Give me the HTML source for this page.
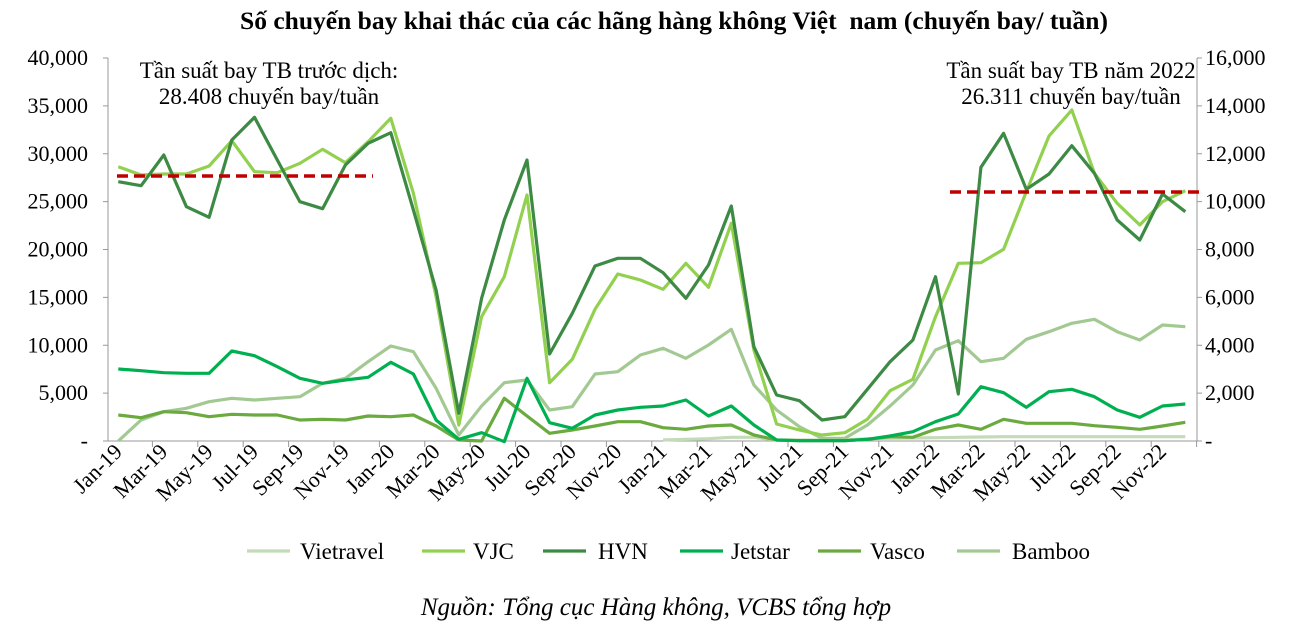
<!DOCTYPE html>
<html><head><meta charset="utf-8"><style>
body{margin:0;background:#fff;}
svg{display:block;font-family:"Liberation Serif","Noto Serif CJK SC",serif;}
</style></head><body>
<svg id="c" width="1309" height="632" xmlns="http://www.w3.org/2000/svg">
<text x="674" y="29" font-size="25.5" font-weight="bold" text-anchor="middle">Số chuyến bay khai thác của các hãng hàng không Việt&#160; nam (chuyến bay/ tuần)</text>
<g font-size="23" text-anchor="middle">
<text x="269" y="78">Tần suất bay TB trước dịch:</text>
<text x="269" y="104">28.408 chuyến bay/tuần</text>
<text x="1071" y="78">Tần suất bay TB năm 2022</text>
<text x="1071" y="104">26.311 chuyến bay/tuần</text>
</g>
<g id="axes" stroke="#999" stroke-width="1"></g>
<g id="lab" font-size="22"></g>
<g id="ser" fill="none" stroke-width="3.2" stroke-linejoin="round"></g>
<line x1="117" y1="176" x2="373" y2="176" stroke="#c00000" stroke-width="3.5" stroke-dasharray="11,6"/>
<line x1="950" y1="192" x2="1200" y2="192" stroke="#c00000" stroke-width="3.5" stroke-dasharray="11,6"/>
<g font-size="23">
<line x1="247" y1="551" x2="290" y2="551" stroke="#c4dbb8" stroke-width="3.2"/><text x="300" y="559">Vietravel</text>
<line x1="422" y1="551" x2="465" y2="551" stroke="#92d050" stroke-width="3.2"/><text x="473" y="559">VJC</text>
<line x1="543" y1="551" x2="586" y2="551" stroke="#3d8a44" stroke-width="3.2"/><text x="598" y="559">HVN</text>
<line x1="680" y1="551" x2="723" y2="551" stroke="#00b050" stroke-width="3.2"/><text x="731" y="559">Jetstar</text>
<line x1="818" y1="551" x2="861" y2="551" stroke="#6aaa3f" stroke-width="3.2"/><text x="870" y="559">Vasco</text>
<line x1="957" y1="551" x2="1000" y2="551" stroke="#a3c993" stroke-width="3.2"/><text x="1012" y="559">Bamboo</text>
</g>
<text x="656" y="615" font-size="25" font-style="italic" text-anchor="middle">Nguồn: Tổng cục Hàng không, VCBS tổng hợp</text>
</svg>
<script>
var NS="http://www.w3.org/2000/svg";
function el(p,t,a,txt){var e=document.createElementNS(NS,t);for(var k in a)e.setAttribute(k,a[k]);if(txt!=null)e.textContent=txt;p.appendChild(e);return e;}
var ax=document.getElementById('axes'),lab=document.getElementById('lab'),ser=document.getElementById('ser');
var X0=107,W=22.7,Y0=441,Yt=58;
function xi(i){return X0+W*(i+0.5);}
el(ax,'line',{x1:108,y1:Yt,x2:108,y2:Y0});
el(ax,'line',{x1:1197,y1:Yt,x2:1197,y2:Y0});
el(ax,'line',{x1:107,y1:Y0,x2:1197,y2:Y0});
var L=["40,000","35,000","30,000","25,000","20,000","15,000","10,000","5,000","-"];
var R=["16,000","14,000","12,000","10,000","8,000","6,000","4,000","2,000","-"];
for(var k=0;k<9;k++){var y=Yt+k*(Y0-Yt)/8;
el(ax,'line',{x1:103,y1:y,x2:108,y2:y});el(ax,'line',{x1:1197,y1:y,x2:1202,y2:y});
el(lab,'text',{x:88,y:y+7,'text-anchor':'end'},L[k]);
el(lab,'text',{x:1205,y:y+7},R[k]);}
var mn=["Jan","Mar","May","Jul","Sep","Nov"];
for(var i=0;i<48;i++){ if(i%2==1){el(ax,'line',{x1:X0+W*(i+1),y1:Y0,x2:X0+W*(i+1),y2:Y0+6});}
 if(i%2==0){var x=xi(i)+5,y=453;el(lab,'text',{x:x,y:y,'text-anchor':'end',transform:'rotate(-45 '+x+' '+y+')'},mn[(i%12)/2]+"-"+(19+Math.floor(i/12)));}}
function toy(z){return 50+z/3;}
var S={
"#a3c993":[1173,1110,1085,1075,1055,1045,1050,1045,1040,1000,985,935,888,905,1015,1155,1068,998,990,1080,1070,972,965,915,895,925,885,838,1005,1080,1130,1165,1165,1125,1068,1005,900,872,935,925,868,845,820,808,845,870,825,830],
"#6aaa3f":[1095,1103,1085,1088,1100,1093,1095,1095,1110,1108,1110,1098,1100,1095,1128,1170,1173,1045,1098,1150,1140,1128,1115,1115,1133,1138,1128,1125,1155,1170,1172,1172,1172,1168,1160,1162,1138,1125,1138,1108,1120,1120,1120,1127,1132,1138,1128,1117],
"#00b050":[957,962,968,970,970,903,917,950,985,1000,990,982,937,972,1110,1168,1148,1175,985,1118,1135,1095,1080,1072,1068,1050,1098,1068,1125,1170,1172,1172,1172,1168,1158,1145,1115,1092,1010,1028,1072,1025,1018,1040,1080,1102,1068,1062],
"#92d050":[350,375,372,372,348,272,365,368,340,298,338,275,205,430,740,1125,800,680,435,998,928,778,672,690,718,640,712,520,900,1122,1140,1155,1148,1108,1022,988,800,640,638,598,425,258,180,370,460,525,455,422],
"#3d8a44":[395,407,315,470,502,270,202,330,455,476,345,280,248,480,720,1090,745,510,330,912,790,648,625,625,668,745,645,468,890,1035,1052,1110,1100,1018,935,870,680,1032,352,250,418,372,287,370,510,570,432,485]
};
var vt=[];for(var i=24;i<48;i++)vt.push([i,i<27?1170-(i-24)*2:(i<29?1162:(i<33?1170:(i<40?1166-(i-33):1160)))]);
el(ser,'polyline',{stroke:'#c4dbb8',points:vt.map(function(p){return xi(p[0]).toFixed(1)+","+toy(p[1]).toFixed(1)}).join(" ")});
for(var c in S){el(ser,'polyline',{stroke:c,points:S[c].map(function(z,i){return xi(i).toFixed(1)+","+toy(z).toFixed(1)}).join(" ")});}
</script>
</body></html>
